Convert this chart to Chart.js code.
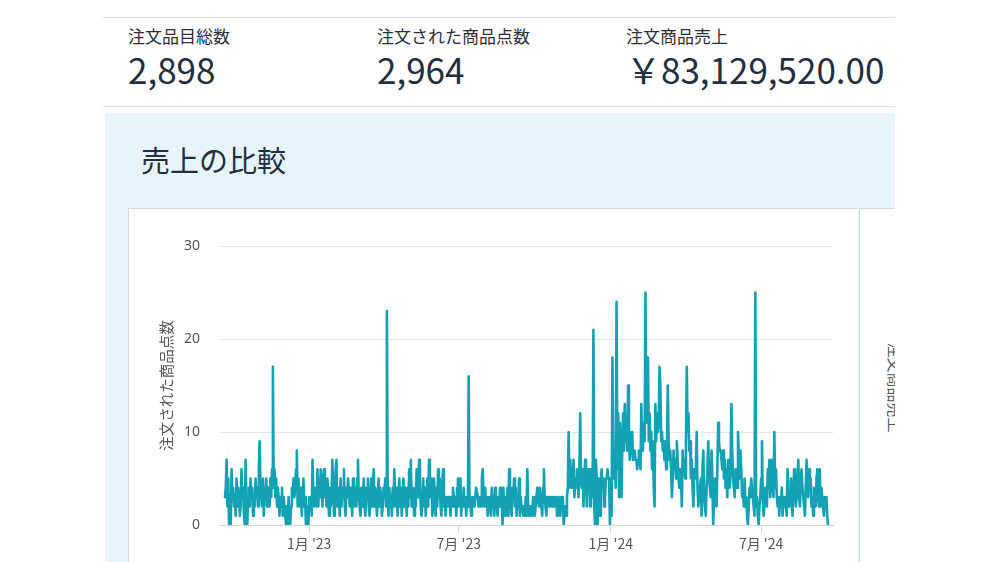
<!DOCTYPE html>
<html lang="ja">
<head>
<meta charset="utf-8">
<title>売上の比較</title>
<script src="https://cdn.jsdelivr.net/npm/chart.js@4.4.1/dist/chart.umd.min.js"></script>
<style>
  html, body { margin: 0; padding: 0; background: #fff; }
  body {
    width: 999px; height: 562px; overflow: hidden; position: relative;
    font-family: "Noto Sans CJK JP", "Noto Sans", sans-serif;
    color: #232f3e;
  }
  .rule { position: absolute; left: 103px; width: 792px; height: 1px; background: #dcdfe0; }
  .metric { position: absolute; top: 25px; }
  .metric .label { font-size: 17px; line-height: 22px; color: #2b3038; white-space: nowrap; }
  .metric .value { font-size: 35px; line-height: 40px; margin-top: 2px; color: #232f3e; white-space: nowrap; }
  .panel { position: absolute; left: 105px; top: 113px; width: 790px; height: 449px; background: #e7f4fc; }
  .panel-title { position: absolute; left: 141px; top: 142px; font-size: 29px; line-height: 34px; color: #232f3e; }
  .card { position: absolute; left: 128px; top: 208px; width: 730px; height: 354px; background: #fff;
          border-left: 1px solid #d5dbdb; border-top: 1px solid #d5dbdb; box-sizing: border-box; }
  .card2 { position: absolute; left: 859px; top: 208px; width: 36px; height: 354px; background: #fff;
           border-left: 1px solid #d5dbdb; border-top: 1px solid #d5dbdb; box-sizing: border-box; overflow: hidden; }
  .card2 span { position: absolute; left: 0; top: 168px; width: 100px; margin-left: -15px; text-align: center;
                font-size: 15px; color: #555; transform: rotate(90deg); transform-origin: 50px 50%; white-space: nowrap; }
  #chart { position: absolute; left: 128px; top: 208px; }
</style>
</head>
<body>
<div class="rule" style="top:17px"></div>
<div class="metric" style="left:128px"><div class="label">注文品目総数</div><div class="value">2,898</div></div>
<div class="metric" style="left:377px"><div class="label">注文された商品点数</div><div class="value">2,964</div></div>
<div class="metric" style="left:626px"><div class="label">注文商品売上</div><div class="value">￥83,129,520.00</div></div>
<div class="rule" style="top:106px"></div>

<div class="panel"></div>
<div class="panel-title">売上の比較</div>
<div class="card"></div>
<div class="card2"><span>注文商品売上</span></div>
<canvas id="chart" width="730" height="354"></canvas>

<script>
// daily units ordered, first day 2022-09-21
const startDate = '2022-09-21';

// 2022-09-21 .. 2022-12-19
const units1 = [
  3,4,7,2,5,0,1,0,6,3,4,2,3,1,5,2,4,3,1,2,6,3,4,1,0,7,2,0,3,4,
  2,5,3,4,1,3,2,5,3,4,2,6,9,4,3,2,5,1,4,3,5,2,4,3,2,5,3,6,17,4,
  6,3,5,2,4,3,1,3,2,4,1,3,2,1,0,2,0,3,1,0,2,4,3,5,3,4,6,8,2,5
];
// 2022-12-20 .. 2023-03-19
const units2 = [
  3,2,4,1,3,5,2,3,0,2,1,0,3,2,3,1,7,3,2,4,3,2,6,2,5,3,6,4,2,5,
  6,3,4,2,5,3,1,4,2,3,7,4,1,3,6,7,2,4,3,1,5,2,4,3,6,2,1,4,3,5,
  5,2,4,3,1,5,2,3,4,2,5,7,3,2,1,4,2,3,5,2,1,4,3,5,2,1,3,5,2,4
];
// 2023-03-20 .. 2023-06-17
const units3 = [
  6,2,4,3,1,3,5,2,4,3,1,2,4,3,5,2,23,3,1,4,2,3,1,4,2,6,3,2,4,1,
  3,5,2,4,1,3,5,2,4,3,1,4,2,6,3,7,2,4,3,1,4,2,6,5,3,7,4,2,1,3,
  5,2,4,1,3,5,2,7,4,3,5,1,2,5,3,1,4,2,6,3,5,2,1,4,6,2,3,1,3,2
];
// 2023-06-18 .. 2023-09-15
const units4 = [
  3,2,3,1,3,2,4,3,2,3,1,4,5,2,3,5,1,3,2,4,2,3,1,3,2,16,2,3,1,2,
  3,2,2,3,4,4,3,2,2,3,2,5,6,3,2,4,2,3,1,2,3,2,1,4,2,3,1,4,3,2,
  1,3,2,4,2,3,0,4,2,1,3,2,4,1,6,3,2,1,4,3,5,2,4,1,3,2,5,1,3,2
];
// 2023-09-16 .. 2023-12-14
const units5 = [
  2,1,2,1,3,1,6,2,1,2,1,2,1,3,2,1,2,3,4,3,2,4,3,2,1,4,6,3,2,1,
  3,2,3,2,3,3,2,3,2,3,2,3,1,2,3,2,1,3,2,3,0,1,2,1,3,4,10,4,7,5,
  4,5,7,3,5,4,6,5,3,6,12,5,4,6,2,5,7,6,2,6,5,6,2,6,5,3,21,2,0,7
];
// 2023-12-15 .. 2024-03-13
const units6 = [
  5,0,5,4,1,5,6,4,5,2,3,5,5,6,5,5,0,5,1,18,8,5,6,4,24,6,12,3,11,9,
  3,9,12,8,13,9,11,8,15,9,7,8,10,10,7,7,8,7,7,6,7,8,7,6,13,8,10,11,9,25,
  11,15,18,9,12,8,10,6,9,4,2,13,9,12,10,11,17,15,9,10,8,9,7,9,6,8,15,9,7,8
];
// 2024-03-14 .. 2024-06-11
const units7 = [
  6,3,5,8,6,7,5,9,7,5,4,6,5,2,8,6,7,5,9,17,10,12,8,9,5,7,4,2,6,5,
  6,10,4,2,3,4,5,1,6,8,3,2,1,4,6,9,5,4,3,8,5,0,3,5,4,2,6,11,9,8,
  8,7,6,8,5,7,4,6,3,7,5,4,6,13,8,5,4,3,6,5,4,10,7,5,8,6,3,4,2,5
];
// 2024-06-12 .. 2024-09-09
const units8 = [
  2,3,1,0,2,4,3,5,4,3,2,1,25,2,3,1,0,2,3,5,9,3,1,2,4,3,2,6,4,7,
  3,5,7,4,3,10,4,6,3,2,3,1,3,2,4,1,3,2,3,2,1,6,3,2,3,5,2,1,4,6,
  4,2,3,5,7,3,2,5,6,4,3,2,1,4,7,5,3,6,4,5,2,3,1,4,3,2,5,6,3,2
];
// 2024-09-10 .. 2024-09-20
const units9 = [6,2,4,3,2,1,3,2,3,1,0];

const tickDates = ['2023-01-01', '2023-07-01', '2024-01-01', '2024-07-01'];
const tickLabels = ["1月 '23", "7月 '23", "1月 '24", "7月 '24"];
const yTicks = [0, 10, 20, 30];

const DAY = 24 * 3600 * 1000;
function dayIndex(s) {
  return Math.round((Date.parse(s + 'T00:00:00Z') - Date.parse(startDate + 'T00:00:00Z')) / DAY);
}
const tickDays = tickDates.map(dayIndex);

const units = [].concat(units1, units2, units3, units4, units5, units6, units7, units8, units9);
const points = units.map((v, i) => ({ x: i, y: v }));

const tickColor = '#555';
const gridColor = '#e6e6e6';
const axisColor = '#ccd6eb';

new Chart(document.getElementById('chart').getContext('2d'), {
  type: 'line',
  data: {
    datasets: [{
      label: '注文された商品点数',
      data: points,
      borderColor: '#13a1b4',
      borderWidth: 2.6,
      borderJoinStyle: 'round',
      borderCapStyle: 'round',
      pointRadius: 0,
      tension: 0,
      fill: false,
    }],
  },
  options: {
    responsive: false,
    animation: false,
    layout: { padding: { top: 38, right: 25, left: 0, bottom: 0 } },
    plugins: {
      legend: { display: false },
      tooltip: { enabled: false },
    },
    scales: {
      x: {
        type: 'linear',
        min: -6,
        max: units.length + 5,
        afterBuildTicks: (scale) => { scale.ticks = tickDays.map(v => ({ value: v })); },
        afterFit: (scale) => { scale.height = 37; },
        ticks: {
          autoSkip: false,
          maxRotation: 0,
          padding: 2,
          color: tickColor,
          font: { family: '"Noto Sans CJK JP", "Noto Sans", sans-serif', size: 14 },
          callback: (v, i) => tickLabels[i],
        },
        grid: { drawOnChartArea: false, drawTicks: true, tickLength: 8, color: axisColor },
        border: { display: true, color: axisColor, width: 1 },
      },
      y: {
        min: 0,
        max: 30,
        afterBuildTicks: (scale) => { scale.ticks = yTicks.map(v => ({ value: v })); },
        afterFit: (scale) => { scale.width = 92; },
        ticks: {
          padding: 20,
          color: tickColor,
          font: { family: '"Noto Sans", sans-serif', size: 14 },
        },
        grid: { color: gridColor, drawTicks: false },
        border: { display: false },
        title: {
          display: true,
          text: '注文された商品点数',
          color: tickColor,
          padding: { top: 30, bottom: 0 },
          font: { family: '"Noto Sans CJK JP", sans-serif', size: 14.5 },
        },
      },
    },
  },
});
</script>
</body>
</html>
